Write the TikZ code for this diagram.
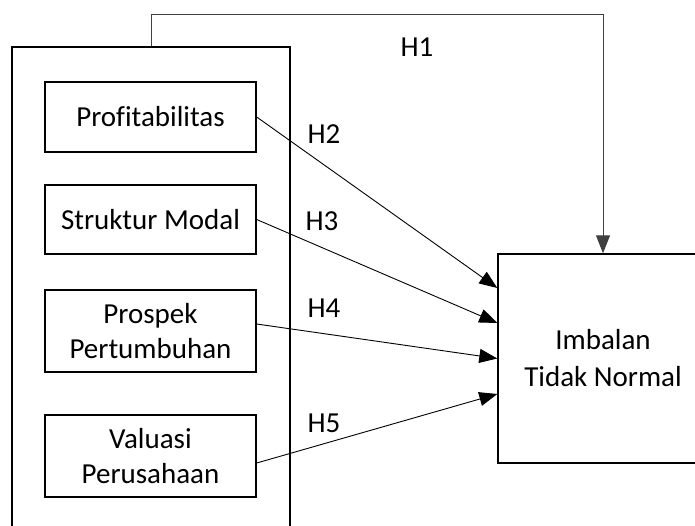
\documentclass[tikz,border=0pt]{standalone}
\usepackage{fontspec}
\setmainfont{Carlito}[Ligatures=CommonOff]
\usetikzlibrary{arrows.meta,calc}
\tikzset{
  box/.style={draw=black, line width=1.4pt, minimum width=211pt, inner sep=0pt, align=center, font=\fontsize{29}{35}\selectfont},
  conn/.style={draw=black, line width=0.9pt, -{Triangle[length=18pt,width=14pt]}},
  hlab/.style={anchor=base, inner sep=0pt, font=\fontsize{29}{35}\selectfont}
}
\begin{document}
\begin{tikzpicture}[x=1pt,y=-1pt]
\useasboundingbox (0,0) rectangle (695,525);
\clip (0,0) rectangle (695,525);
\node[draw=black, line width=1.4pt, minimum width=278pt, minimum height=513pt, inner sep=0pt] (grp) at (151,303.5) {};
\node[box, minimum height=70pt] (p1) at (150.5,117) {Profitabilitas};
\node[box, minimum height=69pt] (p2) at (150.5,219.5) {Struktur Modal};
\node[box, minimum height=82pt] (p3) at (150.5,331) {Prospek\\Pertumbuhan};
\node[box, minimum height=82pt] (p4) at (150.5,456) {Valuasi\\Perusahaan};
\node[box, minimum width=210pt, minimum height=209pt, font=\fontsize{29}{37}\selectfont] (imb) at (603,358.5) {Imbalan\\Tidak Normal};
\coordinate (top) at (0,14);
\draw[conn, draw=black!75] (grp.north) |- (imb.north |- top) -- (imb.north);
\draw[conn] (p1.east) -- ([yshift=70.5pt]imb.west);
\draw[conn] (p2.east) -- ([yshift=35.5pt]imb.west);
\draw[conn] ([yshift=7pt]p3.east) -- ([yshift=0pt]imb.west);
\draw[conn] ([yshift=-7pt]p4.east) -- ([yshift=-35.5pt]imb.west);
\node[hlab] (h1) at (417,56) {H1};
\node[hlab] (h2) at (324,143) {H2};
\node[hlab] (h3) at (322,230) {H3};
\node[hlab] (h4) at (324,317) {H4};
\node[hlab] (h5) at (324,432) {H5};
\end{tikzpicture}
\end{document}
